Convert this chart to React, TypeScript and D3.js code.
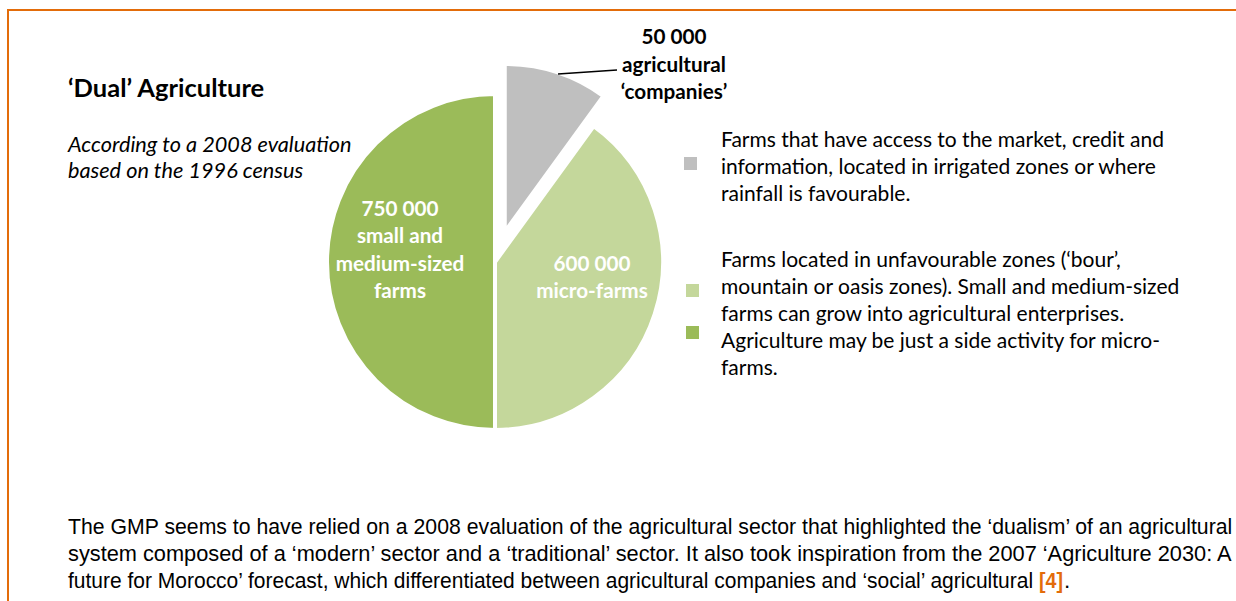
import React, { useLayoutEffect, useRef, useState } from "react";
import * as d3 from "d3";

// ---- data ----
const categories = ["agricultural companies", "micro-farms", "small and medium-sized farms"];
// slice shares as drawn (angles measured on the picture: ~36°, ~144°, 180°)
const sliceShares = [10, 40, 50];
const sliceColors = ["#BFBFBF", "#C4D79B", "#9BBB59"];
const sliceLabelLines = [
  ["50 000", "agricultural", "‘companies’"],
  ["600 000", "micro-farms"],
  ["750 000", "small and", "medium-sized", "farms"],
];
const explodedSlice = 0;

const title = "‘Dual’ Agriculture";
const subtitleLines = ["According to a 2008 evaluation", "based on the 1996 census"];

const legendBlock1 = [
  "Farms that have access to the market, credit and",
  "information, located in irrigated zones or where",
  "rainfall is favourable.",
];
const legendBlock2 = [
  "Farms located in unfavourable zones (‘bour’,",
  "mountain or oasis zones). Small and medium-sized",
  "farms can grow into agricultural enterprises.",
  "Agriculture may be just a side activity for micro-",
  "farms.",
];

const paragraphLines = [
  "The GMP seems to have relied on a 2008 evaluation of the agricultural sector that highlighted the ‘dualism’ of an agricultural",
  "system composed of a ‘modern’ sector and a ‘traditional’ sector. It also took inspiration from the 2007 ‘Agriculture 2030: A",
  "future for Morocco’ forecast, which differentiated between agricultural companies and ‘social’ agricultural",
];
const paragraphRef = "[4]";

const W = 1236;
const H = 601;
const ORANGE = "#E36C0A";
const FONT = "Lato, 'Open Sans', sans-serif";
const PFONT = "'Liberation Sans', Arial, sans-serif";

export default function App() {
  const cx = 495;
  const cy = 262;
  const r = 168;
  const explode = 31.6;

  const pie = d3
    .pie<number>()
    .sort(null)
    .value((d) => d);
  const arcs = pie(sliceShares);
  const arcGen = d3.arc<d3.PieArcDatum<number>>().innerRadius(0).outerRadius(r);

  const offsets = arcs.map((a, i) => {
    if (i !== explodedSlice) return [0, 0];
    const mid = (a.startAngle + a.endAngle) / 2;
    return [Math.sin(mid) * explode, -Math.cos(mid) * explode];
  });

  const legendTextX = 721;
  const lineH = 27;
  const labelSize = 20.7;
  const legendSize = 21;
  const paraSize = 22.5;
  // target widths of the justified paragraph lines and of "[4]"
  const targetWidths = [1164, 1164, 965, 24];

  const refs = useRef<(SVGTextElement | null)[]>([]);
  const [scales, setScales] = useState<number[]>([0.9, 0.9, 0.9, 0.9]);

  useLayoutEffect(() => {
    const s = refs.current.map((el, i) => {
      if (!el) return 0.9;
      const w = el.getComputedTextLength();
      return w > 0 ? targetWidths[i] / w : 0.9;
    });
    setScales(s);
  }, []);

  const paraY = (i: number) => 534 + i * 27;

  return (
    <svg
      width={W}
      height={H}
      viewBox={`0 0 ${W} ${H}`}
      style={{ position: "absolute", left: 0, top: 0, background: "#fff" }}
    >
      <rect x={0} y={0} width={W} height={H} fill="#fff" />
      {/* orange frame */}
      <line x1={8} y1={10} x2={W} y2={10} stroke={ORANGE} strokeWidth={2} />
      <line x1={8} y1={9} x2={8} y2={H} stroke={ORANGE} strokeWidth={2} />

      {/* title */}
      <text x={68} y={97} fontFamily={FONT} fontWeight={700} fontSize={25.5} fill="#000">
        {title}
      </text>
      {subtitleLines.map((t, i) => (
        <text
          key={i}
          x={68}
          y={152 + i * 26}
          fontFamily={FONT}
          fontStyle="italic"
          fontSize={21.7}
          fill="#000"
        >
          {t}
        </text>
      ))}

      {/* pie */}
      <g>
        {arcs.map((a, i) => (
          <path
            key={categories[i]}
            d={arcGen(a) || ""}
            transform={`translate(${cx + offsets[i][0]},${cy + offsets[i][1]})`}
            fill={sliceColors[i]}
            stroke="#fff"
            strokeWidth={4}
            strokeLinejoin="miter"
          />
        ))}
      </g>

      {/* leader line for exploded slice */}
      <polyline points="558,74 617,70" fill="none" stroke="#000" strokeWidth={1.5} />
      {sliceLabelLines[0].map((t, i) => (
        <text
          key={i}
          x={674}
          y={44 + i * 27.5}
          textAnchor="middle"
          fontFamily={FONT}
          fontWeight={700}
          fontSize={labelSize}
          fill="#000"
        >
          {t}
        </text>
      ))}
      {sliceLabelLines[1].map((t, i) => (
        <text
          key={i}
          x={592}
          y={271 + i * 27}
          textAnchor="middle"
          fontFamily={FONT}
          fontWeight={700}
          fontSize={labelSize}
          fill="#fff"
        >
          {t}
        </text>
      ))}
      {sliceLabelLines[2].map((t, i) => (
        <text
          key={i}
          x={400}
          y={216 + i * 27.3}
          textAnchor="middle"
          fontFamily={FONT}
          fontWeight={700}
          fontSize={labelSize}
          fill="#fff"
        >
          {t}
        </text>
      ))}

      {/* legend markers */}
      <rect x={684} y={157} width={13} height={13} fill={sliceColors[0]} />
      <rect x={686} y={284} width={13} height={13} fill={sliceColors[1]} />
      <rect x={686} y={326} width={13} height={13} fill={sliceColors[2]} />

      {/* legend texts */}
      {legendBlock1.map((t, i) => (
        <text key={i} x={legendTextX} y={147 + i * lineH} fontFamily={FONT} fontSize={legendSize} fill="#000">
          {t}
        </text>
      ))}
      {legendBlock2.map((t, i) => (
        <text key={i} x={legendTextX} y={267 + i * lineH} fontFamily={FONT} fontSize={legendSize} fill="#000">
          {t}
        </text>
      ))}

      {/* paragraph below (condensed to the justified widths) */}
      {paragraphLines.map((t, i) => (
        <g key={i} transform={`translate(68,${paraY(i)}) scale(${scales[i]},1)`}>
          <text
            ref={(el) => {
              refs.current[i] = el;
            }}
            x={0}
            y={0}
            fontFamily={PFONT}
            fontSize={paraSize}
            fill="#000"
          >
            {t}
          </text>
        </g>
      ))}
      <g transform={`translate(1039,${paraY(2)}) scale(${scales[3]},1)`}>
        <text
          ref={(el) => {
            refs.current[3] = el;
          }}
          x={0}
          y={0}
          fontFamily={PFONT}
          fontSize={paraSize}
          fontWeight={700}
          fill={ORANGE}
        >
          {paragraphRef}
        </text>
      </g>
      <text x={1064} y={paraY(2)} fontFamily={PFONT} fontSize={paraSize} fill="#000">
        .
      </text>
    </svg>
  );
}
